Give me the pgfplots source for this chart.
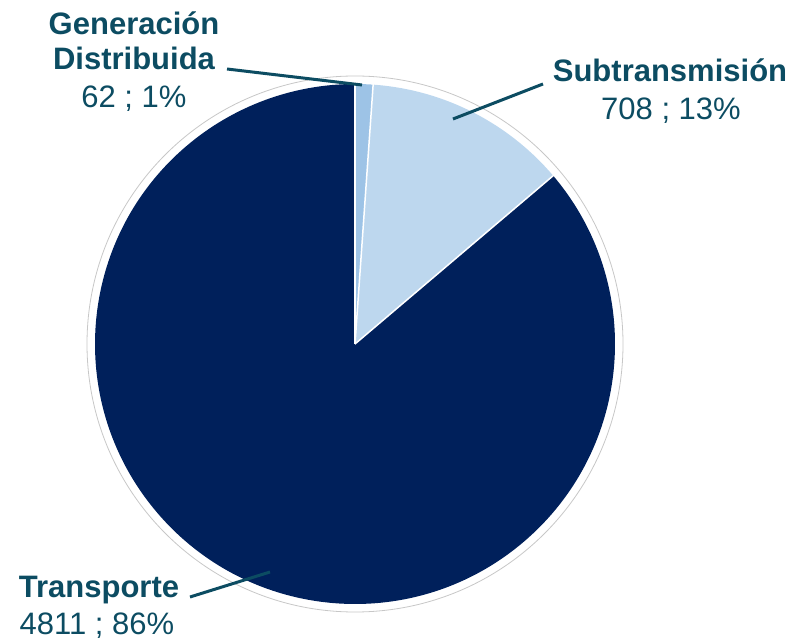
\documentclass[border=0pt]{standalone}
\usepackage{pgfplots}
\usepackage{pgfplotstable}
\pgfplotsset{compat=1.18}
\usepackage{fontspec}
\setmainfont{Liberation Sans}
\definecolor{cGen}{HTML}{9DC3E6}
\definecolor{cSub}{HTML}{BDD7EE}
\definecolor{cTra}{HTML}{00205B}
\definecolor{cTxt}{HTML}{0C4C62}
\pgfplotstableread{
label value
Gen 62
Sub 708
Tra 4811
}\piedata
\begin{document}
\begin{tikzpicture}
\pgfplotstablegetelem{0}{value}\of\piedata \xdef\vA{\pgfplotsretval}
\pgfplotstablegetelem{1}{value}\of\piedata \xdef\vB{\pgfplotsretval}
\pgfplotstablegetelem{2}{value}\of\piedata \xdef\vC{\pgfplotsretval}
\pgfmathsetmacro{\tot}{\vA+\vB+\vC}
\pgfmathsetmacro{\aO}{90}
\pgfmathsetmacro{\aI}{90-360*(\vA/\tot)}
\pgfmathsetmacro{\aII}{\aI-360*(\vB/\tot)}
\pgfmathsetmacro{\aIII}{\aII-360*(\vC/\tot)}
\xdef\aO{\aO}\xdef\aI{\aI}\xdef\aII{\aII}\xdef\aIII{\aIII}
\begin{axis}[
  scale only axis, width=795pt, height=640pt,
  xmin=0, xmax=795, ymin=0, ymax=640,
  hide axis, clip=false,
]
\draw[black!22, line width=0.8pt] (axis cs:355,296) circle[radius=268pt];
\fill[cGen] (axis cs:355,296) -- (axis cs:{355+260*cos(\aO)},{296+260*sin(\aO)}) arc[start angle=\aO, end angle=\aI, radius=260pt] -- cycle;
\fill[cSub] (axis cs:355,296) -- (axis cs:{355+260*cos(\aI)},{296+260*sin(\aI)}) arc[start angle=\aI, end angle=\aII, radius=260pt] -- cycle;
\fill[cTra] (axis cs:355,296) -- (axis cs:{355+260*cos(\aII)},{296+260*sin(\aII)}) arc[start angle=\aII, end angle=\aIII, radius=260pt] -- cycle;
\draw[white, line width=1.5pt] (axis cs:355,296) -- (axis cs:{355+261*cos(\aO)},{296+261*sin(\aO)});
\draw[white, line width=1.5pt] (axis cs:355,296) -- (axis cs:{355+261*cos(\aI)},{296+261*sin(\aI)});
\draw[white, line width=1.5pt] (axis cs:355,296) -- (axis cs:{355+261*cos(\aII)},{296+261*sin(\aII)});
% leader lines
\draw[cTxt, line width=3pt] (axis cs:227,571) -- (axis cs:362,555);
\draw[cTxt, line width=3pt] (axis cs:543,556) -- (axis cs:453,521);
\draw[cTxt, line width=3pt] (axis cs:190,43) -- (axis cs:270,68);
% labels
\node[cTxt, font=\fontsize{31}{37}\selectfont\bfseries, anchor=base] at (axis cs:134,605) {Generación};
\node[cTxt, font=\fontsize{31}{37}\selectfont\bfseries, anchor=base] at (axis cs:134,570) {Distribuida};
\node[cTxt, font=\fontsize{31}{37}\selectfont, anchor=base] at (axis cs:134,532) {62 ; 1\%};
\node[cTxt, font=\fontsize{31}{37}\selectfont\bfseries, anchor=base] at (axis cs:670,558) {Subtransmisión};
\node[cTxt, font=\fontsize{31}{37}\selectfont, anchor=base] at (axis cs:671,520) {708 ; 13\%};
\node[cTxt, font=\fontsize{31}{37}\selectfont\bfseries, anchor=base] at (axis cs:99,43) {Transporte};
\node[cTxt, font=\fontsize{31}{37}\selectfont, anchor=base] at (axis cs:97,6) {4811 ; 86\%};
\end{axis}
\pgfresetboundingbox
\path[use as bounding box] (0,0) rectangle (795pt,640pt);
\end{tikzpicture}
\end{document}
